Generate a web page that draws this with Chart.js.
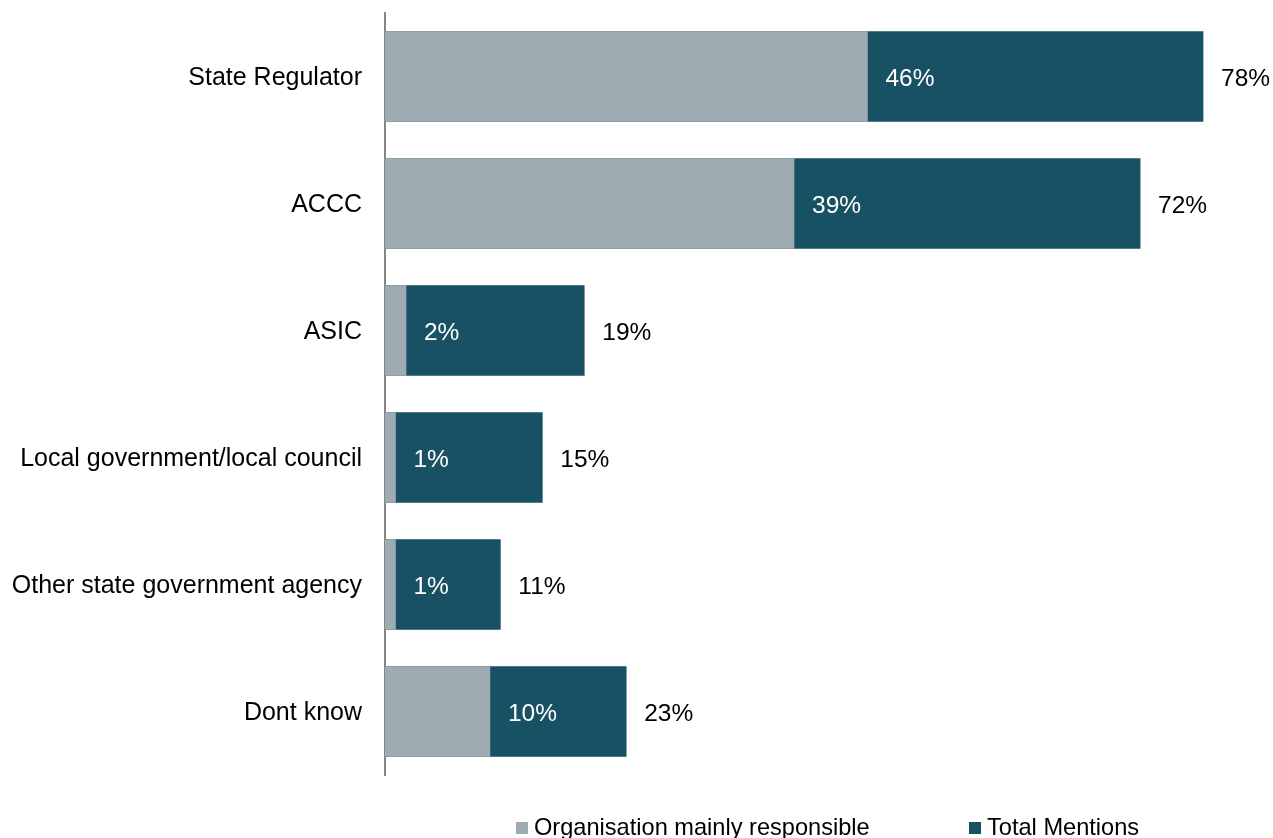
<!DOCTYPE html>
<html>
<head>
<meta charset="utf-8">
<script src="https://cdn.jsdelivr.net/npm/chart.js@4"></script>
<style>
  html, body { margin: 0; padding: 0; background: #fff; overflow: hidden; }
  #wrap { width: 1273px; height: 838px; position: relative; }
</style>
</head>
<body>
<div id="wrap"><canvas id="bar-chart"></canvas></div>
<script>
const categories = [
    'State Regulator',
    'ACCC',
    'ASIC',
    'Local government/local council',
    'Other state government agency',
    'Dont know'
];
const mainlyResponsible = [46, 39, 2, 1, 1, 10];
const totalMentions = [78, 72, 19, 15, 11, 23];

const colors = {
    grey: '#9eabb2',
    teal: '#185163',
    axis: '#868686',
    text: '#000000',
};

const FONT = "'Liberation Sans', Arial, Helvetica, sans-serif";

// value labels just past the end of each bar
const valueLabels = {
    id: 'valueLabels',
    afterDatasetsDraw(chart) {
        const ctx = chart.ctx;
        ctx.save();
        ctx.font = `24.5px ${FONT}`;
        ctx.textAlign = 'left';
        ctx.textBaseline = 'middle';
        chart.data.datasets.forEach((ds, i) => {
            const meta = chart.getDatasetMeta(i);
            ctx.fillStyle = ds.labelColor;
            meta.data.forEach((bar, j) => {
                ctx.fillText(ds.data[j] + '%', bar.x + 18, bar.y + 2.5);
            });
        });
        ctx.restore();
    }
};

// legend sits low and offset like the original, so draw it by hand
const bottomLegend = {
    id: 'bottomLegend',
    afterDraw(chart) {
        const ctx = chart.ctx;
        const spots = [516, 969];
        ctx.save();
        ctx.font = `23.6px ${FONT}`;
        ctx.textBaseline = 'alphabetic';
        chart.data.datasets.forEach((ds, i) => {
            const x = spots[i];
            ctx.fillStyle = ds.backgroundColor;
            ctx.fillRect(x, 822, 12, 12);
            ctx.fillStyle = colors.text;
            ctx.fillText(ds.label, x + 18, 835);
        });
        ctx.restore();
    }
};

const config = {
    type: 'bar',
    data: {
        labels: categories,
        datasets: [
            {
                label: 'Organisation mainly responsible',
                data: mainlyResponsible,
                backgroundColor: colors.grey,
                labelColor: '#ffffff',
                order: 0,
            },
            {
                label: 'Total Mentions',
                data: totalMentions,
                backgroundColor: colors.teal,
                labelColor: colors.text,
                order: 1,
            },
        ]
    },
    options: {
        indexAxis: 'y',
        responsive: true,
        maintainAspectRatio: false,
        animation: false,
        layout: { padding: { top: 13, right: 49, bottom: 63, left: 0 } },
        datasets: {
            bar: {
                grouped: false,
                barThickness: 90,
                borderWidth: 0,
            }
        },
        plugins: {
            legend: { display: false },
            tooltip: { enabled: false },
        },
        scales: {
            x: {
                display: false,
                min: 0,
                max: 80,
            },
            y: {
                z: 1,
                afterFit: (scale) => {
                    scale.width = 385;
                    // tick padding would otherwise push the plot down
                    scale.paddingTop = 0;
                    scale.paddingBottom = 0;
                },
                grid: { display: false, drawTicks: false },
                border: { display: true, color: colors.axis, width: 2 },
                ticks: {
                    padding: 23,
                    labelOffset: 2,
                    color: colors.text,
                    font: { family: FONT, size: 25 },
                },
            }
        }
    },
    plugins: [valueLabels, bottomLegend]
};

new Chart(document.getElementById('bar-chart'), config);
</script>
</body>
</html>
